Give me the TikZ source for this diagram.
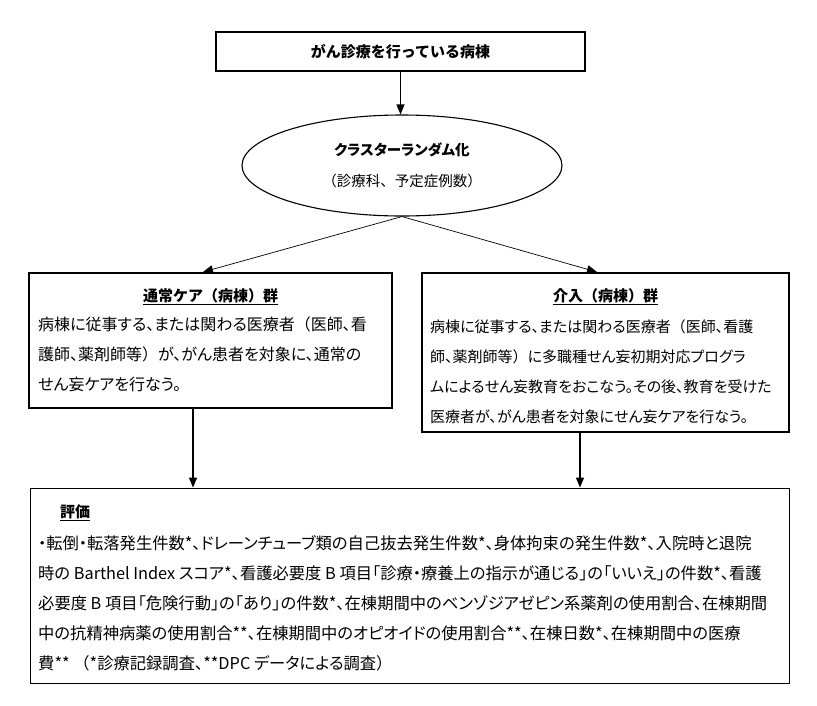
\documentclass[tikz,border=0pt]{standalone}
\usepackage{fontspec}
\setmainfont{Noto Sans CJK JP}[RawFeature=+palt]
\newfontfamily\jfull{Noto Sans CJK JP}
\newcommand\lp{{\jfull （}}
\newcommand\rp{{\jfull ）}}
\usetikzlibrary{arrows.meta,shapes.geometric}

\begin{document}
\begin{tikzpicture}[x=1pt,y=-1pt,
  hb/.style={draw,line width=1.6pt,minimum width=369pt,minimum height=39pt,inner sep=0pt,font=\jfull\fontsize{15}{18}\selectfont\bfseries},
  ov/.style={ellipse,draw,line width=1.1pt,minimum width=320pt,minimum height=101pt,inner sep=0pt,align=center,font=\fontsize{14.5}{31}\selectfont},
  gb/.style={draw,line width=2pt,inner sep=0pt},
  eb/.style={draw,line width=0.9pt,inner sep=0pt},
  ttl/.style={font=\jfull\fontsize{15}{18}\selectfont\bfseries,inner xsep=0pt,inner ysep=1pt},
  txt/.style={font=\fontsize{#1}{30}\selectfont,align=left,inner sep=0pt,anchor=north west},
  ul/.style={line width=1.2pt},
  ar/.style={-{Triangle[length=10pt,width=8pt]},line width=1.3pt},
  dar/.style={-{Triangle[length=10pt,width=8pt]},line width=0.7pt}]
  \useasboundingbox (0,0) rectangle (817,705);
  % ---------- top: wards and randomisation ----------
  \node[hb] (ward) at (400.5,51.5) {がん診療を行っている病棟};
  \node[ov] (rand) at (402,165.5) {{\bfseries クラスターランダム化}\\{\jfull （診療科、予定症例数）}};
  \draw[ar] (ward.south) -- (ward.south |- rand.north);
  % ---------- usual care group ----------
  \node[gb,minimum width=363pt,minimum height=135pt] (usual) at (210.5,340.5) {};
  \node[ttl] (usualT) at (210.5,296) {通常ケア（病棟）群};
  \draw[ul] (usualT.south west) -- (usualT.south east);
  \node[txt=16] (usualB) at (38,317) {病棟に従事する、または関わる医療者\lp 医師、看\\護師、薬剤師等\rp が、がん患者を対象に、通常の\\せん妄ケアを行なう。};
  % ---------- intervention group ----------
  \node[gb,minimum width=367pt,minimum height=159pt] (inter) at (605.5,352.5) {};
  \node[ttl] (interT) at (605.5,296) {介入（病棟）群};
  \draw[ul] (interT.south west) -- (interT.south east);
  \node[txt=15] (interB) at (430,319.5) {病棟に従事する、または関わる医療者\lp 医師、看護\\師、薬剤師等\rp に多職種せん妄初期対応プログラ\\ムによるせん妄教育をおこなう。その後、教育を受けた\\医療者が、がん患者を対象にせん妄ケアを行なう。};
  \draw[dar] (rand.south) -- ([xshift=-7.5pt]usual.north);
  \draw[dar] (rand.south) -- ([xshift=-8.5pt]inter.north);
  % ---------- evaluation ----------
  \node[eb,minimum width=759pt,minimum height=195pt] (eval) at (409.5,585.5) {};
  \node[ttl] (evalT) at (75,512) {評価};
  \draw[ul] (evalT.south west) -- (evalT.south east);
  \node[txt=16.3] (evalB) at (38,535) {・転倒・転落発生件数*、ドレーンチューブ類の自己抜去発生件数*、身体拘束の発生件数*、入院時と退院\\時の Barthel Index スコア*、看護必要度 B 項目「診療・療養上の指示が通じる」の「いいえ」の件数*、看護\\必要度 B 項目「危険行動」の「あり」の件数*、在棟期間中のベンゾジアゼピン系薬剤の使用割合、在棟期間\\中の抗精神病薬の使用割合**、在棟期間中のオピオイドの使用割合**、在棟日数*、在棟期間中の医療\\費** \lp*診療記録調査、**DPC データによる調査\rp};
  \draw[ar] ([xshift=-17.5pt]usual.south) -- ([xshift=-17.5pt]usual.south |- eval.north);
  \draw[ar] ([xshift=-25.5pt]inter.south) -- ([xshift=-25.5pt]inter.south |- eval.north);
\end{tikzpicture}
\end{document}
